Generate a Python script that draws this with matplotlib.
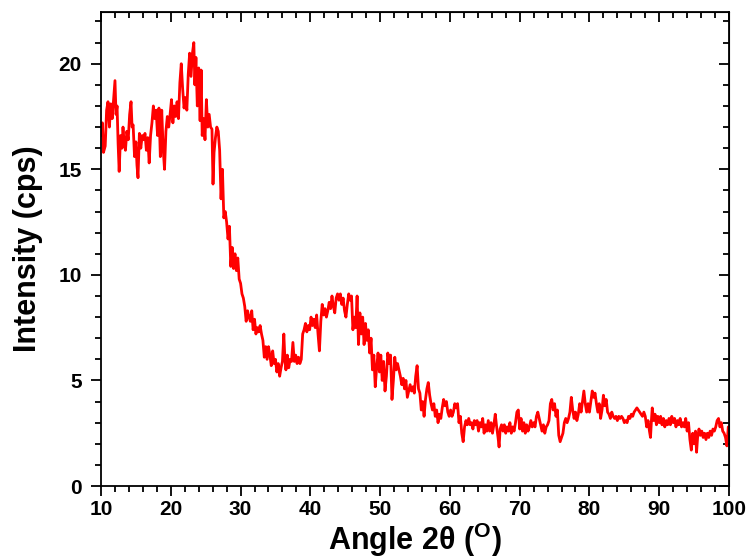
import matplotlib
matplotlib.use("Agg")
import matplotlib.pyplot as plt
from matplotlib.ticker import MultipleLocator

# values (2theta in degrees, intensity in cps)
# fmt: off
angle = [
    10.0, 10.2, 10.35, 10.6, 10.8, 11.0, 11.2, 11.4, 11.6, 11.8, 12.0, 12.15, 12.3, 12.45, 12.6, 12.8,
    13.0, 13.15, 13.3, 13.5, 13.7, 13.9, 14.1, 14.3, 14.45, 14.6, 14.8, 15.0, 15.15, 15.3, 15.5, 15.7,
    15.9, 16.1, 16.3, 16.5, 16.7, 16.9, 17.1, 17.3, 17.5, 17.7, 17.9, 18.1, 18.3, 18.5, 18.7, 18.9,
    19.1, 19.3, 19.5, 19.7, 19.9, 20.1, 20.3, 20.5, 20.7, 20.9, 21.1, 21.3, 21.5, 21.7, 21.9, 22.1,
    22.3, 22.5, 22.7, 22.9, 23.1, 23.3, 23.45, 23.6, 23.8, 24.0, 24.2, 24.35, 24.5, 24.7, 24.9, 25.1,
    25.3, 25.5, 25.7, 25.9, 26.05, 26.2, 26.4, 26.6, 26.8, 27.0, 27.2, 27.4, 27.6, 27.8, 28.0, 28.2,
    28.4, 28.6, 28.8, 29.0, 29.2, 29.4, 29.6, 29.8, 30.0, 30.2, 30.4, 30.6, 30.8, 31.0, 31.2, 31.4,
    31.6, 31.8, 32.0, 32.2, 32.4, 32.6, 32.8, 33.0, 33.2, 33.4, 33.6, 33.8, 34.0, 34.2, 34.4, 34.6,
    34.8, 35.0, 35.2, 35.4, 35.6, 35.8, 36.0, 36.2, 36.35, 36.5, 36.7, 36.9, 37.1, 37.3, 37.5, 37.7,
    37.9, 38.1, 38.3, 38.5, 38.7, 38.9, 39.1, 39.3, 39.5, 39.7, 39.9, 40.1, 40.3, 40.5, 40.7, 40.9,
    41.1, 41.3, 41.5, 41.7, 41.9, 42.1, 42.3, 42.5, 42.7, 42.9, 43.1, 43.3, 43.5, 43.7, 43.9, 44.1,
    44.3, 44.5, 44.7, 44.9, 45.1, 45.3, 45.5, 45.7, 45.9, 46.1, 46.3, 46.5, 46.7, 46.9, 47.1, 47.3,
    47.5, 47.7, 47.9, 48.1, 48.3, 48.5, 48.7, 48.9, 49.1, 49.3, 49.5, 49.7, 49.9, 50.1, 50.3, 50.5,
    50.7, 50.9, 51.1, 51.3, 51.5, 51.7, 51.9, 52.1, 52.3, 52.5, 52.7, 52.9, 53.1, 53.3, 53.5, 53.7,
    53.9, 54.1, 54.3, 54.5, 54.7, 54.9, 55.1, 55.3, 55.5, 55.7, 55.9, 56.1, 56.3, 56.5, 56.7, 56.9,
    57.1, 57.3, 57.5, 57.7, 57.9, 58.1, 58.3, 58.5, 58.7, 58.9, 59.1, 59.3, 59.5, 59.7, 59.9, 60.1,
    60.3, 60.5, 60.7, 60.9, 61.1, 61.3, 61.5, 61.7, 61.9, 62.1, 62.3, 62.5, 62.7, 62.9, 63.1, 63.3,
    63.5, 63.7, 63.9, 64.1, 64.3, 64.5, 64.7, 64.9, 65.1, 65.3, 65.5, 65.7, 65.9, 66.1, 66.3, 66.5,
    66.7, 66.9, 67.05, 67.2, 67.4, 67.6, 67.8, 68.0, 68.2, 68.4, 68.6, 68.8, 69.0, 69.2, 69.4, 69.6,
    69.8, 70.0, 70.2, 70.4, 70.6, 70.8, 71.0, 71.2, 71.4, 71.6, 71.8, 72.0, 72.2, 72.4, 72.6, 72.8,
    73.0, 73.2, 73.4, 73.6, 73.8, 74.0, 74.2, 74.4, 74.6, 74.8, 75.0, 75.2, 75.4, 75.6, 75.8, 76.0,
    76.2, 76.4, 76.6, 76.8, 77.0, 77.2, 77.4, 77.6, 77.8, 78.0, 78.2, 78.4, 78.6, 78.8, 79.0, 79.2,
    79.4, 79.6, 79.8, 80.0, 80.2, 80.4, 80.6, 80.8, 81.0, 81.2, 81.4, 81.6, 81.8, 82.0, 82.2, 82.4,
    82.6, 82.8, 83.0, 83.2, 83.4, 83.6, 83.8, 84.0, 84.2, 84.4, 84.6, 84.8, 85.0, 85.2, 85.4, 85.6,
    85.8, 86.0, 86.2, 86.4, 86.6, 86.8, 87.0, 87.2, 87.4, 87.6, 87.8, 88.0, 88.2, 88.4, 88.6, 88.75,
    88.9, 89.0, 89.2, 89.4, 89.6, 89.8, 90.0, 90.2, 90.4, 90.6, 90.8, 91.0, 91.2, 91.4, 91.6, 91.8,
    92.0, 92.2, 92.4, 92.6, 92.8, 93.0, 93.2, 93.4, 93.6, 93.8, 94.0, 94.2, 94.4, 94.6, 94.8, 95.0,
    95.2, 95.35, 95.5, 95.7, 95.9, 96.1, 96.3, 96.5, 96.7, 96.9, 97.1, 97.3, 97.5, 97.7, 97.9, 98.1,
    98.3, 98.5, 98.7, 98.9, 99.1, 99.3, 99.5, 99.7, 99.9, 100.0,
]
intensity = [
    16.6, 17.2, 15.8, 16.1, 17.8, 18.2, 17.0, 18.1, 17.4, 18.3, 19.2, 17.6, 18.0, 16.2, 14.9, 16.6,
    16.0, 17.0, 16.3, 15.9, 16.8, 16.4, 17.6, 18.2, 17.0, 17.1, 15.6, 16.3, 15.2, 14.6, 16.7, 16.0,
    16.6, 16.4, 16.7, 15.9, 16.5, 15.3, 16.6, 17.2, 18.0, 17.4, 17.8, 16.6, 17.9, 15.6, 17.8, 16.0,
    15.0, 16.8, 17.5, 17.0, 17.6, 18.3, 17.2, 18.0, 17.5, 18.2, 17.4, 19.1, 20.0, 18.8, 17.9, 18.4,
    17.8, 19.5, 20.5, 19.4, 20.5, 21.0, 19.0, 20.3, 18.0, 19.8, 17.3, 19.7, 16.6, 17.4, 16.4, 18.3,
    17.0, 17.6, 17.0, 16.9, 14.3, 15.8, 16.5, 17.0, 16.8, 15.9, 13.6, 15.0, 12.7, 13.0, 12.5, 11.7,
    12.3, 10.4, 11.3, 10.3, 11.0, 10.2, 10.8, 9.8, 9.6, 9.1, 8.9, 8.5, 7.8, 8.3, 8.0, 7.8,
    8.3, 7.4, 7.9, 7.2, 7.5, 7.3, 7.6, 7.2, 6.9, 6.1, 6.6, 6.0, 6.6, 6.2, 5.7, 6.4,
    5.8, 6.0, 5.4, 5.8, 5.2, 5.6, 5.9, 7.2, 6.0, 5.5, 6.2, 5.6, 6.0, 5.9, 6.8, 5.9,
    6.2, 5.8, 6.1, 5.8, 6.0, 7.2, 7.4, 7.7, 7.3, 7.6, 7.4, 8.0, 7.6, 7.9, 7.5, 8.1,
    7.2, 6.4, 7.8, 8.6, 8.1, 8.4, 8.0, 8.3, 8.7, 8.4, 9.0, 8.5, 8.2, 8.9, 9.1, 8.8,
    9.1, 8.6, 8.9, 8.3, 8.0, 8.6, 9.1, 8.8, 9.0, 7.4, 8.0, 7.5, 9.0, 6.7, 8.2, 7.2,
    8.0, 6.7, 7.7, 6.9, 7.4, 6.3, 7.0, 5.5, 6.2, 4.7, 5.6, 6.3, 5.4, 6.2, 5.0, 5.9,
    4.5, 5.2, 6.3, 5.8, 6.2, 4.1, 5.0, 6.1, 5.5, 5.8, 5.5, 5.2, 4.8, 5.1, 4.6, 5.0,
    4.2, 4.5, 4.8, 4.5, 4.7, 4.4, 5.2, 5.7, 4.6, 4.4, 3.6, 4.0, 3.3, 4.1, 4.6, 4.9,
    4.3, 3.9, 3.6, 3.9, 3.3, 3.6, 3.0, 3.4, 3.2, 3.7, 4.1, 3.8, 4.0, 3.5, 3.3, 3.6,
    3.3, 3.5, 3.9, 3.7, 3.9, 3.0, 3.3, 2.5, 2.1, 2.8, 3.1, 2.9, 3.2, 2.9, 3.0, 2.7,
    3.1, 2.9, 3.1, 2.6, 3.0, 2.8, 3.2, 2.5, 2.9, 2.6, 3.1, 2.6, 3.0, 2.5, 2.9, 3.4,
    2.8, 2.3, 1.85, 2.7, 2.9, 2.6, 2.9, 2.5, 2.8, 2.6, 3.0, 2.5, 2.8, 2.6, 3.0, 3.5,
    3.6, 2.7, 3.2, 2.6, 3.0, 2.5, 2.9, 2.6, 2.8, 3.1, 2.8, 3.0, 2.8, 3.3, 3.5, 3.2,
    2.9, 2.6, 2.9, 2.5, 2.8, 2.9, 3.1, 3.9, 4.1, 3.6, 3.9, 3.3, 3.6, 2.4, 2.1, 2.3,
    2.5, 3.0, 3.2, 3.0, 3.2, 3.5, 4.2, 3.6, 3.2, 3.5, 3.1, 3.4, 3.9, 3.5, 4.0, 4.5,
    3.9, 3.5, 3.9, 3.5, 4.0, 4.5, 4.2, 4.4, 3.9, 3.5, 3.9, 3.2, 3.6, 4.3, 3.8, 4.1,
    3.5, 3.4, 3.2, 3.5, 3.3, 3.2, 3.3, 3.1, 3.3, 3.2, 3.3, 3.2, 3.0, 3.1, 3.0, 3.3,
    3.2, 3.4, 3.3, 3.5, 3.6, 3.7, 3.6, 3.5, 3.4, 3.3, 3.5, 3.3, 2.8, 3.1, 2.6, 2.3,
    3.2, 3.7, 3.1, 3.4, 2.9, 3.3, 3.0, 3.3, 2.9, 3.2, 2.8, 3.1, 2.9, 3.2, 2.9, 3.3,
    3.0, 3.2, 2.8, 3.1, 2.9, 3.2, 2.8, 3.0, 2.8, 3.2, 2.6, 3.0, 2.2, 1.7, 2.5, 2.0,
    2.6, 1.6, 2.3, 2.7, 2.4, 2.6, 2.3, 2.5, 2.2, 2.5, 2.3, 2.6, 2.4, 2.7, 2.6, 2.8,
    3.1, 3.2, 2.8, 3.0, 2.6, 2.5, 2.3, 1.9, 2.8, 2.6,
]
# fmt: on

plt.rcParams["font.family"] = ["Liberation Sans", "DejaVu Sans"]
plt.rcParams["font.weight"] = "bold"
plt.rcParams["mathtext.fontset"] = "custom"
plt.rcParams["mathtext.bf"] = "Liberation Sans:bold"
plt.rcParams["mathtext.rm"] = "Liberation Sans:bold"

fig = plt.figure(figsize=(7.5, 5.58), dpi=100)
ax = fig.add_axes([0.1347, 0.129, 0.8373, 0.8495])

ax.plot(angle, intensity, color="#ff0000", linewidth=2.0)

ax.set_xlim(10, 100)
ax.set_ylim(0, 22.45)
ax.xaxis.set_major_locator(MultipleLocator(10))
ax.xaxis.set_minor_locator(MultipleLocator(2))
ax.yaxis.set_major_locator(MultipleLocator(5))
ax.yaxis.set_minor_locator(MultipleLocator(1))

for s in ax.spines.values():
    s.set_linewidth(1.3)
ax.tick_params(which="both", direction="out", width=1.3, labelsize=15,
               top=False, right=False)
ax.tick_params(which="major", length=7)
ax.tick_params(which="minor", length=4)
ax.tick_params(axis="y", which="major", pad=7)
ax.tick_params(axis="x", which="major", pad=3)

# mirrored ticks on top and right, pointing inward
axt = ax.secondary_xaxis("top")
axt.xaxis.set_major_locator(MultipleLocator(10))
axt.xaxis.set_minor_locator(MultipleLocator(2))
axt.tick_params(which="both", direction="in", width=1.3, labeltop=False)
axt.tick_params(which="major", length=7)
axt.tick_params(which="minor", length=4)
axr = ax.secondary_yaxis("right")
axr.yaxis.set_major_locator(MultipleLocator(5))
axr.yaxis.set_minor_locator(MultipleLocator(1))
axr.tick_params(which="both", direction="in", width=1.3, labelright=False)
axr.tick_params(which="major", length=7)
axr.tick_params(which="minor", length=4)

for lab in ax.get_xticklabels() + ax.get_yticklabels():
    lab.set_fontweight("bold")

ax.set_xlabel(r"Angle 2θ ($\mathbf{^{O}}$)", fontsize=22, fontweight="bold", labelpad=1)
ax.set_ylabel("Intensity (cps)", fontsize=22, fontweight="bold", labelpad=11)

fig.savefig("out.png", dpi=100)
